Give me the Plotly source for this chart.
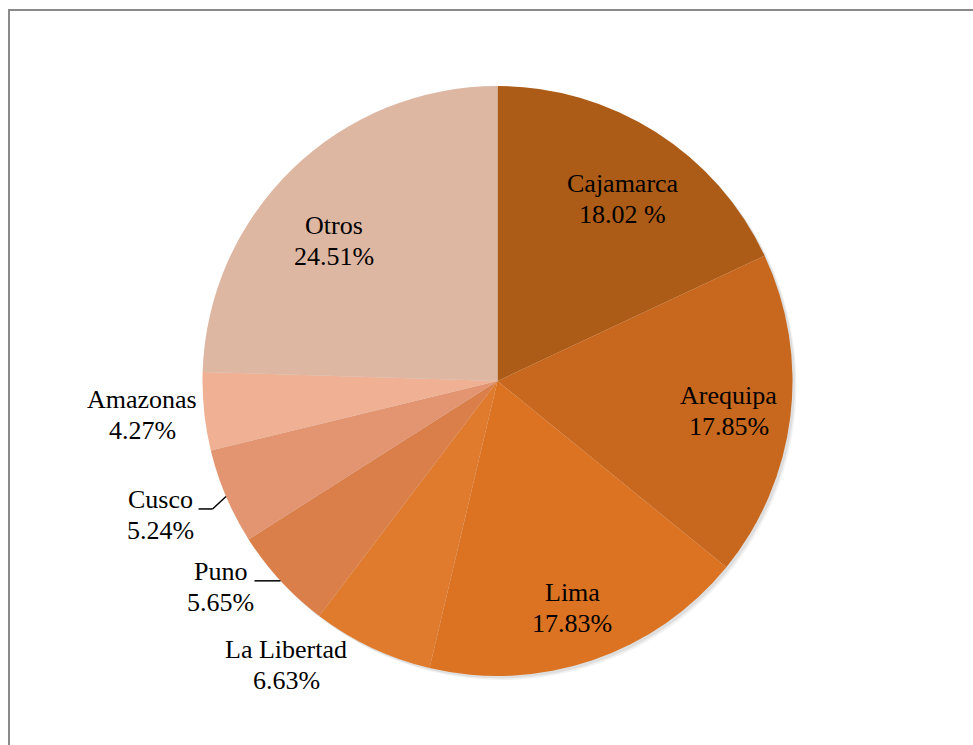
import math
import plotly.graph_objects as go

# ---- data ----
regions = ["Cajamarca", "Arequipa", "Lima", "La Libertad", "Puno", "Cusco", "Amazonas", "Otros"]
shares = [18.02, 17.85, 17.83, 6.63, 5.65, 5.24, 4.27, 24.51]
pct_text = ["18.02 %", "17.85%", "17.83%", "6.63%", "5.65%", "5.24%", "4.27%", "24.51%"]
colors = ["#AD5C17", "#C8681E", "#DB7323", "#E07B2D", "#DA7F49", "#E39571", "#EFB093", "#DEB7A3"]

# label placement (radius factor of pie radius, angle nudge in degrees)
label_r = [0.75, 0.79, 0.81, 1.20, 1.17, 1.23, 1.21, 0.73]
label_nudge = [2.0, 0.3, 0.6, 11.4, 5.9, 1.3, 0.4, -5.4]
# leader polylines (pixel offsets from the slice edge point)
leaders = {"Cusco": [(0, 0), (-13.5, 12.5), (-27.5, 12.5)], "Puno": [(0, 0), (-26, 0)]}

W, H = 973, 745
CX, CY, R = 497.5, 381.0, 295.0
FONT = "Times New Roman, Liberation Serif, DejaVu Serif, serif"
FS = 26


def px(x):
    return x / W


def py(y):
    return 1 - y / H


fig = go.Figure()

# soft shadow layers
for off, alpha in [(4, 0.05), (2.5, 0.08)]:
    fig.add_trace(go.Pie(
        values=[1], sort=False, marker=dict(colors=[f"rgba(0,0,0,{alpha})"], line=dict(width=0)),
        textinfo="none", hoverinfo="skip", showlegend=False,
        domain=dict(x=[px(CX - R + off), px(CX + R + off)], y=[py(CY + R + off), py(CY - R + off)]),
    ))

fig.add_trace(go.Pie(
    labels=regions, values=shares, sort=False, direction="clockwise", rotation=0,
    marker=dict(colors=colors, line=dict(width=0)),
    textinfo="none", hoverinfo="label+percent", showlegend=False,
    domain=dict(x=[px(CX - R), px(CX + R)], y=[py(CY + R), py(CY - R)]),
))

total = sum(shares)
annotations = []
shapes = []
cum = 0.0
for name, v, pt, rf, nd in zip(regions, shares, pct_text, label_r, label_nudge):
    mid = (cum + v / 2) / total * 360.0
    cum += v
    a = math.radians(mid + nd)
    lx = CX + rf * R * math.sin(a)
    ly = CY - rf * R * math.cos(a)
    for txt, dy in [(name, -15.5), (pt, 15.5)]:
        annotations.append(dict(
            x=px(lx), y=py(ly + dy), xref="paper", yref="paper", text=txt, showarrow=False,
            xanchor="center", yanchor="middle", font=dict(family=FONT, size=FS, color="black"),
        ))
    if name in leaders:
        am = math.radians(mid)
        ex = CX + R * math.sin(am)
        ey = CY - R * math.cos(am)
        pts = leaders[name]
        for (x0, y0), (x1, y1) in zip(pts[:-1], pts[1:]):
            shapes.append(dict(type="line", xref="paper", yref="paper",
                               x0=px(ex + x0), y0=py(ey + y0), x1=px(ex + x1), y1=py(ey + y1),
                               line=dict(color="black", width=1.5)))

# chart frame
shapes.append(dict(type="rect", xref="paper", yref="paper",
                   x0=px(9), y0=py(760), x1=px(990), y1=py(10),
                   line=dict(color="#8A8A8A", width=2), fillcolor="rgba(0,0,0,0)"))

fig.update_layout(
    width=W, height=H, autosize=False,
    margin=dict(l=0, r=0, t=0, b=0),
    paper_bgcolor="white", plot_bgcolor="white",
    font=dict(family=FONT),
    annotations=annotations, shapes=shapes,
)

fig.write_html("out.html")
